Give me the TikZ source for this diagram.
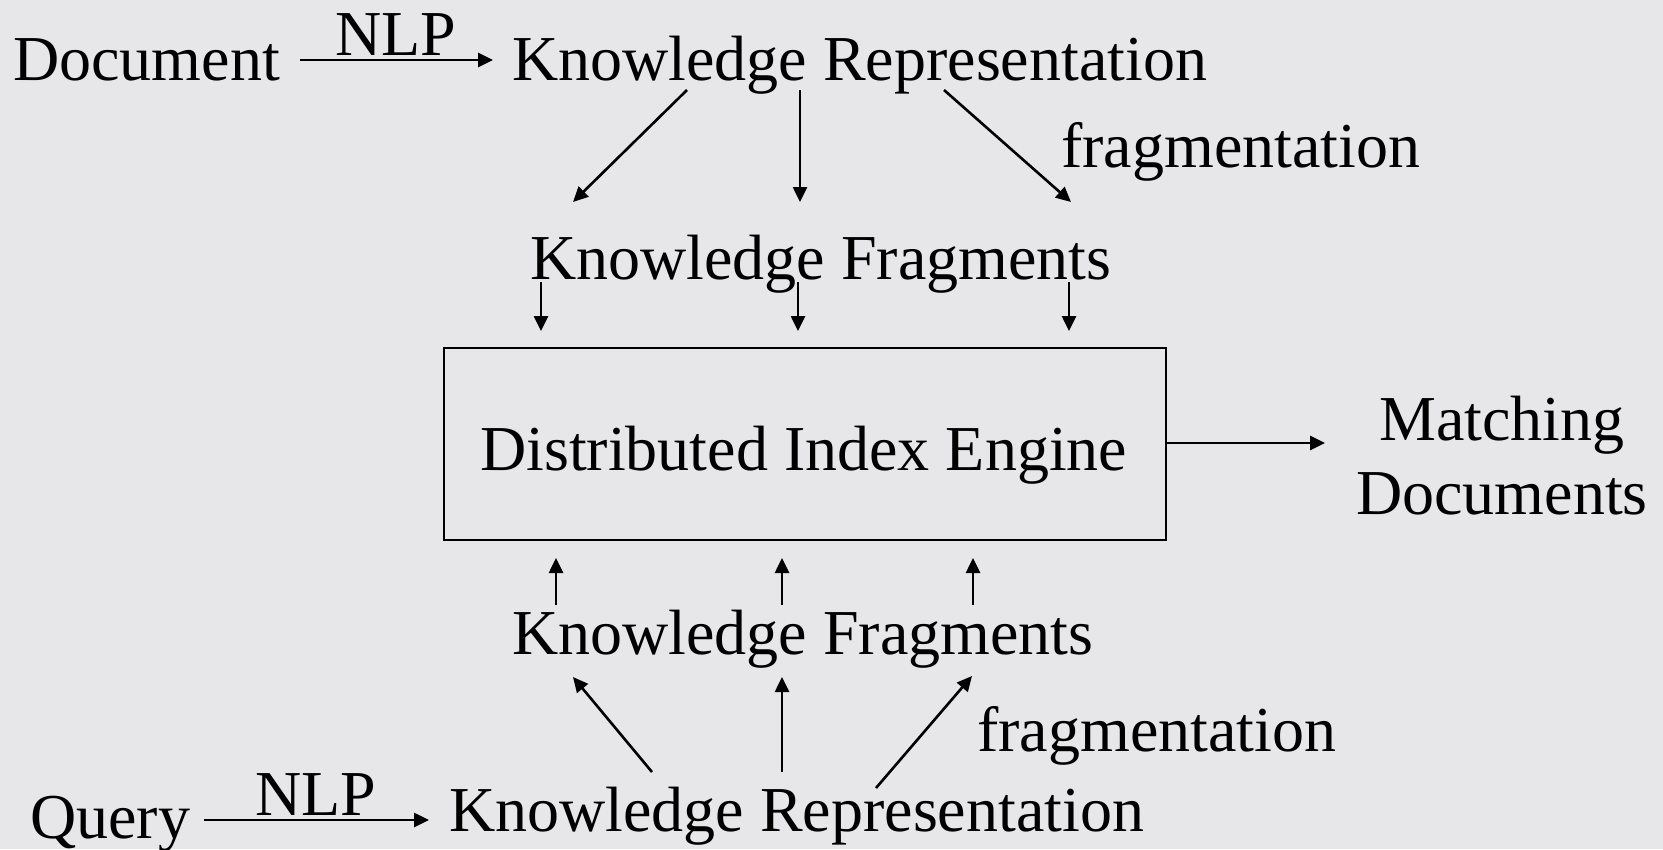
\documentclass[tikz,border=0pt]{standalone}
\usepackage{fontspec}
\setmainfont{Liberation Serif}
\usetikzlibrary{arrows.meta}
\definecolor{marble}{RGB}{231,231,233}
\tikzset{
  lbl/.style={inner sep=0pt, anchor=base west, font=\fontsize{64}{70}\selectfont},
  lblc/.style={inner sep=0pt, anchor=base, font=\fontsize{64}{70}\selectfont},
  conn/.style={line width=2.6pt, -{Triangle[length=15pt,width=14pt]}},
  enginebox/.style={draw, line width=2.4pt, fill=none}
}
\begin{document}
\begin{tikzpicture}[x=1pt,y=-1pt]
\fill[marble] (0,0) rectangle (1663,849);
\useasboundingbox (0,0) rectangle (1663,849);
% top row
\node[lbl] (doc) at (13,80) {Document};
\node[lblc] (nlp1) at (396,55) {NLP};
\node[lbl] (kr1) at (512,80) {Knowledge Representation};
\node[lbl] (frag1) at (1061,167) {fragmentation};
\node[lbl] (kf1) at (530,279) {Knowledge Fragments};
% engine
\node[enginebox, minimum width=722pt, minimum height=192pt, inner sep=0pt] (eng) at (805,444) {};
\node[lbl] (engt) at (480,470) {Distributed Index Engine};
\node[lblc] (match) at (1502,440) {Matching};
\node[lblc] (mdocs) at (1502,514) {Documents};
% bottom
\node[lbl] (kf2) at (512,654) {Knowledge Fragments};
\node[lbl] (frag2) at (977,751) {fragmentation};
\node[lbl] (query) at (30,838) {Query};
\node[lblc] (nlp2) at (316,815) {NLP};
\node[lbl] (kr2) at (449,831) {Knowledge Representation};
% connector end points
\coordinate (a1s) at (300,60);  \coordinate (a1e) at (493,60);
\coordinate (b1s) at (687,90);  \coordinate (b1e) at (573,202);
\coordinate (b2s) at (800,90);  \coordinate (b2e) at (800,202);
\coordinate (b3s) at (944,90);  \coordinate (b3e) at (1071,202);
\coordinate (c1s) at (541,282); \coordinate (c1e) at (541,331);
\coordinate (c2s) at (798,282); \coordinate (c2e) at (798,331);
\coordinate (c3s) at (1069,282);\coordinate (c3e) at (1069,331);
\coordinate (ms) at (1166,443); \coordinate (me) at (1325,443);
\coordinate (d1s) at (556,605); \coordinate (d1e) at (556,558);
\coordinate (d2s) at (782,605); \coordinate (d2e) at (782,558);
\coordinate (d3s) at (973,605); \coordinate (d3e) at (973,558);
\coordinate (e1s) at (652,772); \coordinate (e1e) at (573,677);
\coordinate (e2s) at (782,772); \coordinate (e2e) at (782,677);
\coordinate (e3s) at (876,788); \coordinate (e3e) at (972,676);
\coordinate (f1s) at (204,820); \coordinate (f1e) at (429,820);
% connectors
\draw[conn] (a1s) -- (a1e);
\draw[conn] (b1s) -- (b1e);
\draw[conn] (b2s) -- (b2e);
\draw[conn] (b3s) -- (b3e);
\draw[conn] (c1s) -- (c1e);
\draw[conn] (c2s) -- (c2e);
\draw[conn] (c3s) -- (c3e);
\draw[conn] (ms) -- (me);
\draw[conn] (d1s) -- (d1e);
\draw[conn] (d2s) -- (d2e);
\draw[conn] (d3s) -- (d3e);
\draw[conn] (e1s) -- (e1e);
\draw[conn] (e2s) -- (e2e);
\draw[conn] (e3s) -- (e3e);
\draw[conn] (f1s) -- (f1e);
\end{tikzpicture}
\end{document}
